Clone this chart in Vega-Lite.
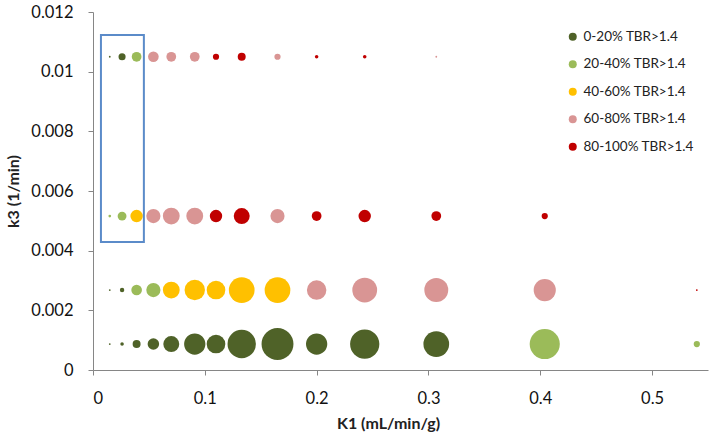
{
  "$schema": "https://vega.github.io/schema/vega-lite/v6.json",
  "width": 615,
  "height": 358,
  "autosize": {"type": "none"},
  "padding": {"left": 93, "top": 12, "right": 1, "bottom": 70},
  "background": "white",
  "datasets": {
    "box": [{"x0": 0.0071, "x1": 0.0455, "y0": 0.00429, "y1": 0.01123}],
    "bubbles": [
      {"K1": 0.015, "k3": 0.00087, "s": 4, "grp": "0-20% TBR>1.4"},
      {"K1": 0.026, "k3": 0.00087, "s": 16, "grp": "0-20% TBR>1.4"},
      {"K1": 0.039, "k3": 0.00087, "s": 81, "grp": "0-20% TBR>1.4"},
      {"K1": 0.054, "k3": 0.00087, "s": 169, "grp": "0-20% TBR>1.4"},
      {"K1": 0.07, "k3": 0.00087, "s": 324, "grp": "0-20% TBR>1.4"},
      {"K1": 0.091, "k3": 0.00087, "s": 576, "grp": "0-20% TBR>1.4"},
      {"K1": 0.11, "k3": 0.00087, "s": 441, "grp": "0-20% TBR>1.4"},
      {"K1": 0.133, "k3": 0.00087, "s": 1024, "grp": "0-20% TBR>1.4"},
      {"K1": 0.165, "k3": 0.00087, "s": 1296, "grp": "0-20% TBR>1.4"},
      {"K1": 0.2, "k3": 0.00087, "s": 576, "grp": "0-20% TBR>1.4"},
      {"K1": 0.243, "k3": 0.00087, "s": 1089, "grp": "0-20% TBR>1.4"},
      {"K1": 0.307, "k3": 0.00087, "s": 841, "grp": "0-20% TBR>1.4"},
      {"K1": 0.404, "k3": 0.00087, "s": 1156, "grp": "20-40% TBR>1.4"},
      {"K1": 0.54, "k3": 0.00087, "s": 49, "grp": "20-40% TBR>1.4"},

      {"K1": 0.015, "k3": 0.00268, "s": 4, "grp": "0-20% TBR>1.4"},
      {"K1": 0.026, "k3": 0.00268, "s": 25, "grp": "0-20% TBR>1.4"},
      {"K1": 0.039, "k3": 0.00268, "s": 144, "grp": "20-40% TBR>1.4"},
      {"K1": 0.054, "k3": 0.00268, "s": 256, "grp": "20-40% TBR>1.4"},
      {"K1": 0.07, "k3": 0.00268, "s": 361, "grp": "40-60% TBR>1.4"},
      {"K1": 0.091, "k3": 0.00268, "s": 529, "grp": "40-60% TBR>1.4"},
      {"K1": 0.11, "k3": 0.00268, "s": 441, "grp": "40-60% TBR>1.4"},
      {"K1": 0.133, "k3": 0.00268, "s": 841, "grp": "40-60% TBR>1.4"},
      {"K1": 0.165, "k3": 0.00268, "s": 841, "grp": "40-60% TBR>1.4"},
      {"K1": 0.2, "k3": 0.00268, "s": 484, "grp": "60-80% TBR>1.4"},
      {"K1": 0.243, "k3": 0.00268, "s": 784, "grp": "60-80% TBR>1.4"},
      {"K1": 0.307, "k3": 0.00268, "s": 729, "grp": "60-80% TBR>1.4"},
      {"K1": 0.404, "k3": 0.00268, "s": 625, "grp": "60-80% TBR>1.4"},
      {"K1": 0.54, "k3": 0.00268, "s": 4, "grp": "80-100% TBR>1.4"},

      {"K1": 0.015, "k3": 0.00516, "s": 9, "grp": "20-40% TBR>1.4"},
      {"K1": 0.026, "k3": 0.00516, "s": 100, "grp": "20-40% TBR>1.4"},
      {"K1": 0.039, "k3": 0.00516, "s": 196, "grp": "40-60% TBR>1.4"},
      {"K1": 0.054, "k3": 0.00516, "s": 256, "grp": "60-80% TBR>1.4"},
      {"K1": 0.07, "k3": 0.00516, "s": 361, "grp": "60-80% TBR>1.4"},
      {"K1": 0.091, "k3": 0.00516, "s": 361, "grp": "60-80% TBR>1.4"},
      {"K1": 0.11, "k3": 0.00516, "s": 196, "grp": "80-100% TBR>1.4"},
      {"K1": 0.133, "k3": 0.00516, "s": 324, "grp": "80-100% TBR>1.4"},
      {"K1": 0.165, "k3": 0.00516, "s": 256, "grp": "60-80% TBR>1.4"},
      {"K1": 0.2, "k3": 0.00516, "s": 121, "grp": "80-100% TBR>1.4"},
      {"K1": 0.243, "k3": 0.00516, "s": 196, "grp": "80-100% TBR>1.4"},
      {"K1": 0.307, "k3": 0.00516, "s": 121, "grp": "80-100% TBR>1.4"},
      {"K1": 0.404, "k3": 0.00516, "s": 49, "grp": "80-100% TBR>1.4"},

      {"K1": 0.015, "k3": 0.0105, "s": 4, "grp": "0-20% TBR>1.4"},
      {"K1": 0.026, "k3": 0.0105, "s": 64, "grp": "0-20% TBR>1.4"},
      {"K1": 0.039, "k3": 0.0105, "s": 121, "grp": "20-40% TBR>1.4"},
      {"K1": 0.054, "k3": 0.0105, "s": 144, "grp": "60-80% TBR>1.4"},
      {"K1": 0.07, "k3": 0.0105, "s": 121, "grp": "60-80% TBR>1.4"},
      {"K1": 0.091, "k3": 0.0105, "s": 121, "grp": "60-80% TBR>1.4"},
      {"K1": 0.11, "k3": 0.0105, "s": 49, "grp": "80-100% TBR>1.4"},
      {"K1": 0.133, "k3": 0.0105, "s": 81, "grp": "80-100% TBR>1.4"},
      {"K1": 0.165, "k3": 0.0105, "s": 49, "grp": "60-80% TBR>1.4"},
      {"K1": 0.2, "k3": 0.0105, "s": 16, "grp": "80-100% TBR>1.4"},
      {"K1": 0.243, "k3": 0.0105, "s": 16, "grp": "80-100% TBR>1.4"},
      {"K1": 0.307, "k3": 0.0105, "s": 4, "grp": "60-80% TBR>1.4"}
    ]
  },
  "layer": [
    {
      "data": {"name": "bubbles"},
      "mark": {"type": "circle", "opacity": 1},
      "encoding": {
        "x": {
          "field": "K1",
          "type": "quantitative",
          "scale": {"domain": [0, 0.55], "nice": false},
          "axis": {
            "values": [0, 0.1, 0.2, 0.3, 0.4, 0.5],
            "format": "~g",
            "labelPadding": 15,
            "title": "K1 (mL/min/g)",
            "titleX": 295,
            "titleY": 53,
            "titleBaseline": "middle"
          }
        },
        "y": {
          "field": "k3",
          "type": "quantitative",
          "scale": {"domain": [0, 0.012], "nice": false},
          "axis": {
            "values": [0, 0.002, 0.004, 0.006, 0.008, 0.01, 0.012],
            "format": "~g",
            "labelPadding": 15,
            "title": "k3 (1/min)",
            "titleX": -80,
            "titleY": 179,
            "titleBaseline": "middle"
          }
        },
        "size": {
          "field": "s",
          "type": "quantitative",
          "scale": {"type": "linear", "domain": [0, 1296], "range": [0, 1018]},
          "legend": null
        },
        "color": {
          "field": "grp",
          "type": "nominal",
          "scale": {
            "domain": ["0-20% TBR>1.4", "20-40% TBR>1.4", "40-60% TBR>1.4", "60-80% TBR>1.4", "80-100% TBR>1.4"],
            "range": ["#4F6228", "#9BBB59", "#FFC000", "#D99594", "#C00000"]
          },
          "legend": {
            "title": null,
            "orient": "none",
            "legendX": 473,
            "legendY": 18,
            "symbolSize": 64,
            "symbolType": "circle",
            "labelFontSize": 13.5,
            "labelColor": "#222222",
            "rowPadding": 12.5,
            "labelOffset": 4
          }
        }
      }
    },
    {
      "data": {"name": "box"},
      "mark": {"type": "rect", "fill": null, "fillOpacity": 0, "stroke": "#5B8BC9", "strokeWidth": 2},
      "encoding": {
        "x": {"field": "x0", "type": "quantitative"},
        "x2": {"field": "x1"},
        "y": {"field": "y0", "type": "quantitative"},
        "y2": {"field": "y1"}
      }
    }
  ],
  "config": {
    "font": "Lato",
    "view": {"stroke": null},
    "axis": {
      "grid": false,
      "domainColor": "#868686",
      "tickColor": "#868686",
      "tickSize": 5,
      "labelFontSize": 16.5,
      "labelColor": "#111111",
      "titleFontSize": 16,
      "titleFontWeight": "bold",
      "titleColor": "#222222"
    }
  }
}
